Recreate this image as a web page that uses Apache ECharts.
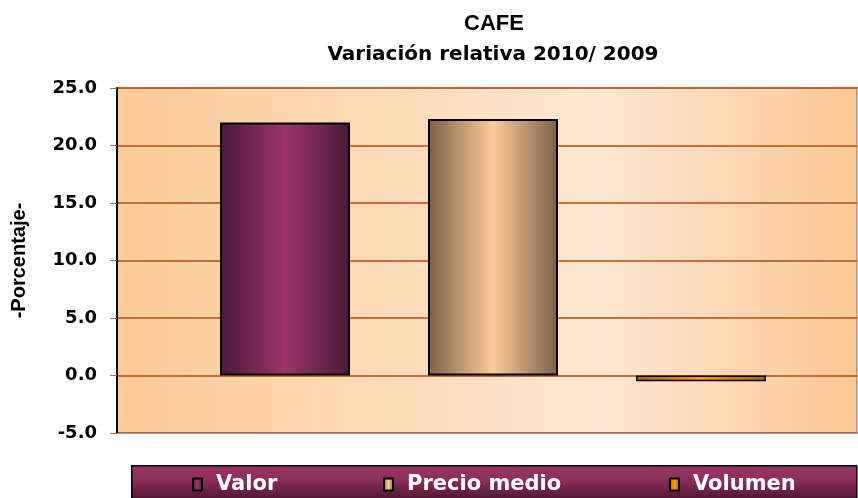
<!DOCTYPE html>
<html><head><meta charset="utf-8">
<script src="https://cdn.jsdelivr.net/npm/echarts@6/dist/echarts.min.js"></script>
<style>html,body{margin:0;padding:0;background:#fff}#c{width:858px;height:498px}</style>
</head><body><div id="c"></div>
<script>
var categories = [''];
var seriesNames = ['Valor', 'Precio medio', 'Volumen'];
var valor = [22.0];
var precioMedio = [22.3];
var volumen = [-0.5];
var yTicks = [-5, 25, 5];

function hgrad(edge, mid) {
  return new echarts.graphic.LinearGradient(0, 0, 1, 0, [
    {offset: 0, color: edge}, {offset: 0.5, color: mid}, {offset: 1, color: edge}
  ]);
}
var chart = echarts.init(document.getElementById('c'));
var FA = 'Liberation Sans, Arial, sans-serif';
var FD = 'DejaVu Sans, sans-serif';
function leg(name, left) {
  return {
    data: [name], left: left, top: 474, padding: 0, itemWidth: 9, itemHeight: 12, icon: 'rect', z: 10,
    textStyle: {fontFamily: FD, fontSize: 21, fontWeight: 'bold', color: '#fff', padding: [0, 0, 0, 9]},
    itemStyle: {borderColor: '#000', borderWidth: 2}
  };
}
chart.setOption({
  animation: false,
  title: [
    {text: 'CAFE', left: 489, top: 8, textAlign: 'center',
     textStyle: {fontFamily: FA, fontSize: 22, fontWeight: 'bold', color: '#000'}},
    {text: 'Variación relativa 2010/ 2009', left: 488, top: 40, textAlign: 'center',
     textStyle: {fontFamily: FD, fontSize: 20, fontWeight: 'bold', color: '#000'}}
  ],
  graphic: [{
    type: 'rect', left: 131, top: 465, z: 0,
    shape: {width: 725, height: 34},
    style: {fill: new echarts.graphic.LinearGradient(0, 0, 0, 1, [
      {offset: 0, color: '#9B3565'}, {offset: 0.4, color: '#8E2F5C'}, {offset: 1, color: '#4A1432'}]),
      stroke: '#000', lineWidth: 1.5}
  }, {
    type: 'line', z: 5, shape: {x1: 856.5, y1: 88, x2: 856.5, y2: 433},
    style: {stroke: '#999', lineWidth: 1}
  }],
  legend: [leg(seriesNames[0], 192), leg(seriesNames[1], 383), leg(seriesNames[2], 669)],
  grid: {left: 117, width: 752, top: 88, height: 345, outerBoundsMode: 'none', containLabel: false,
    show: true, borderColor: '#999', borderWidth: 1,
    backgroundColor: new echarts.graphic.LinearGradient(0, 0, 1, 0, [
      {offset: 0, color: '#FDCB98'}, {offset: 0.64, color: '#FDE7D2'}, {offset: 1, color: '#FDC793'}])},
  xAxis: {type: 'category', data: categories, axisLabel: {show: false}, axisTick: {show: false},
    axisLine: {onZero: false, lineStyle: {color: '#999'}}},
  yAxis: {type: 'value', min: yTicks[0], max: yTicks[1], interval: yTicks[2],
    name: '-Porcentaje-', nameLocation: 'middle', nameGap: 88, nameRotate: 90,
    nameTextStyle: {fontFamily: FA, fontSize: 20, fontWeight: 'bold', color: '#000'},
    axisLine: {show: true, lineStyle: {color: '#000', width: 2}},
    axisTick: {show: true, length: 7, lineStyle: {color: '#777'}},
    axisLabel: {fontFamily: FD, fontSize: 18, fontWeight: 'bold', color: '#000', margin: 20,
      formatter: function (v) { return v.toFixed(1); }},
    splitLine: {lineStyle: {color: '#B04A12', width: 1.5}}},
  series: [
    {name: seriesNames[0], type: 'bar', data: valor, barWidth: 130, barGap: '60%',
      itemStyle: {color: hgrad('#4A1A38', '#9B3565'), borderColor: '#000', borderWidth: 2}},
    {name: seriesNames[1], type: 'bar', data: precioMedio, barWidth: 130,
      itemStyle: {color: hgrad('#7A6048', '#FDCB98'), borderColor: '#000', borderWidth: 2}},
    {name: seriesNames[2], type: 'bar', data: volumen, barWidth: 130,
      itemStyle: {color: hgrad('#A06A10', '#FF9900'), borderColor: '#000', borderWidth: 1.5}}
  ]
});
</script></body></html>
